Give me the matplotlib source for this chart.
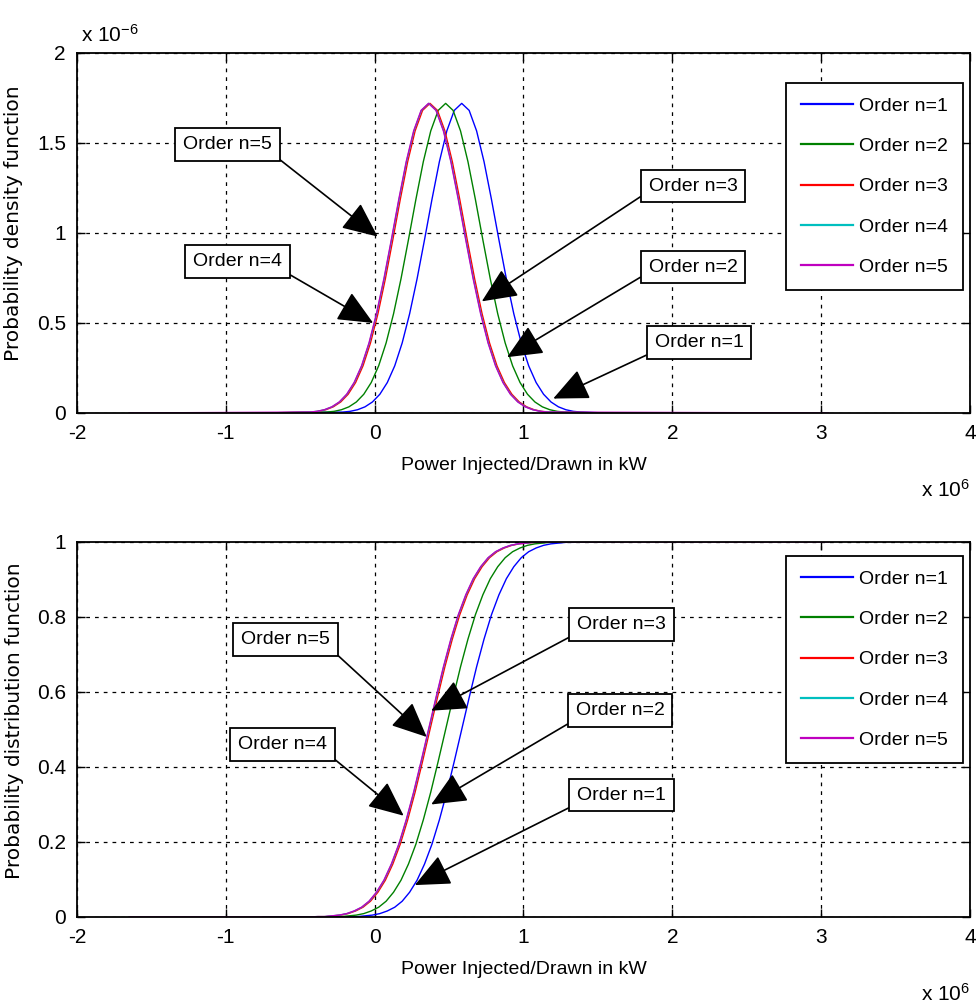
import numpy as np
import matplotlib
matplotlib.use('Agg')
import matplotlib.pyplot as plt

plt.rcParams['font.family'] = ['Liberation Sans', 'DejaVu Sans']
plt.rcParams['mathtext.fontset'] = 'custom'
plt.rcParams['mathtext.rm'] = 'Liberation Sans'
plt.rcParams['mathtext.default'] = 'regular'

# power in units of 1e6 kW, density in units of 1e-6
orders = ['Order n=1', 'Order n=2', 'Order n=3', 'Order n=4', 'Order n=5']
colors = ['#0000ff', '#008000', '#ff0000', '#00bfbf', '#bf00bf']
centre = [0.585, 0.477, 0.372, 0.364, 0.362]
span_start = [-0.75, -0.75, -0.75, -0.75, -1.65]
span_end = [1.55, 1.55, 1.55, 1.55, 3.05]

offset = [-0.80, -0.75, -0.70, -0.65, -0.60, -0.55, -0.50, -0.45, -0.40, -0.35, -0.30,
          -0.25, -0.20, -0.15, -0.10, -0.05, 0.00, 0.05, 0.10, 0.15, 0.20, 0.25,
          0.30, 0.35, 0.40, 0.45, 0.50, 0.55, 0.60, 0.65, 0.70, 0.75, 0.80]
pdf_level = [0.005, 0.009, 0.018, 0.034, 0.061, 0.104, 0.169, 0.262, 0.389, 0.551, 0.745,
             0.962, 1.186, 1.396, 1.567, 1.681, 1.720, 1.681, 1.567, 1.396, 1.186, 0.962,
             0.745, 0.551, 0.389, 0.262, 0.169, 0.104, 0.061, 0.034, 0.018, 0.009, 0.005]
cdf_level = [0.000, 0.001, 0.001, 0.003, 0.005, 0.009, 0.016, 0.026, 0.042, 0.066, 0.098,
             0.141, 0.194, 0.259, 0.333, 0.415, 0.500, 0.585, 0.667, 0.741, 0.806, 0.859,
             0.902, 0.934, 0.958, 0.974, 0.984, 0.991, 0.995, 0.997, 0.999, 0.999, 1.000]

# callouts: (label, text x, text y, arrow x, arrow y, corner of box the arrow leaves from)
pdf_notes = [('Order n=5', -0.99, 1.49, 0.02, 0.98, (1, 0)),
             ('Order n=4', -0.92, 0.84, -0.01, 0.50, (1, 0)),
             ('Order n=3', 2.14, 1.26, 0.72, 0.62, (0, 0.2)),
             ('Order n=2', 2.14, 0.81, 0.89, 0.31, (0, 0.2)),
             ('Order n=1', 2.18, 0.39, 1.20, 0.08, (0, 0))]
cdf_notes = [('Order n=5', -0.60, 0.74, 0.35, 0.48, (1, 0)),
             ('Order n=4', -0.62, 0.46, 0.195, 0.27, (1, 0)),
             ('Order n=3', 1.66, 0.78, 0.38, 0.55, (0, 0)),
             ('Order n=2', 1.65, 0.55, 0.38, 0.30, (0, 0)),
             ('Order n=1', 1.66, 0.325, 0.27, 0.085, (0, 0))]


def style_axes(ax, yticks, yticklabels, ylim):
    ax.set_xlim(-2, 4)
    ax.set_ylim(*ylim)
    ax.set_xticks([-2, -1, 0, 1, 2, 3, 4])
    ax.set_xticklabels(['-2', '-1', '0', '1', '2', '3', '4'])
    ax.set_yticks(yticks)
    ax.set_yticklabels(yticklabels)
    ax.tick_params(direction='in', length=6, width=1.0, top=True, right=True,
                   labelsize=15, pad=8)
    for s in ax.spines.values():
        s.set_linewidth(1.3)
    ax.grid(True, color='black', linestyle=(0, (3, 4)), linewidth=0.9)
    ax.set_axisbelow(True)
    ax.set_xlabel('Power Injected/Drawn in kW', fontsize=14, labelpad=10)


def add_notes(ax, notes):
    for label, tx, ty, ax_, ay, corner in notes:
        ax.annotate(label, xy=(ax_, ay), xytext=(tx, ty), ha='center', va='center',
                    fontsize=14,
                    bbox=dict(boxstyle='square,pad=0.4', fc='white', ec='black', lw=1.3),
                    arrowprops=dict(arrowstyle='-|>,head_length=1.0,head_width=0.45',
                                    color='black', lw=1.2, relpos=corner,
                                    shrinkA=0, shrinkB=0, mutation_scale=22))


fig = plt.figure(figsize=(9.77, 10.07), dpi=100)
ax1 = fig.add_axes([0.0788, 0.5899, 0.914, 0.3575])
ax2 = fig.add_axes([0.0788, 0.0894, 0.914, 0.3724])

off = np.array(offset)
for i in range(5):
    x = np.concatenate([[span_start[i]], centre[i] + off, [span_end[i]]])
    y_pdf = np.concatenate([[0], pdf_level, [0]])
    y_cdf = np.concatenate([[0], cdf_level, [1]])
    ax1.plot(x, y_pdf, color=colors[i], lw=1.0, label=orders[i])
    ax2.plot(x, y_cdf, color=colors[i], lw=1.0, label=orders[i])

style_axes(ax1, [0, 0.5, 1, 1.5, 2], ['0', '0.5', '1', '1.5', '2'], (0, 2))
style_axes(ax2, [0, 0.2, 0.4, 0.6, 0.8, 1], ['0', '0.2', '0.4', '0.6', '0.8', '1'], (0, 1))
ax1.set_ylabel('Probability density function', fontsize=14.5, family='DejaVu Sans')
ax2.set_ylabel('Probability distribution function', fontsize=14.5, family='DejaVu Sans')
ax1.yaxis.set_label_coords(-0.060, 0.528)
ax2.yaxis.set_label_coords(-0.059, 0.523)

add_notes(ax1, pdf_notes)
add_notes(ax2, cdf_notes)

leg_kw = dict(loc='upper right', fontsize=14, fancybox=False, edgecolor='black',
              framealpha=1, handlelength=2.7, handletextpad=0.3,
              labelspacing=1.16, borderpad=0.75, borderaxespad=0)
l1 = ax1.legend(bbox_to_anchor=(0.992, 0.917), **leg_kw)
l2 = ax2.legend(bbox_to_anchor=(0.992, 0.963), **leg_kw)
for l in (l1, l2):
    l.get_frame().set_linewidth(1.3)
    for h in l.get_lines():
        h.set_linewidth(1.6)

# MATLAB style exponent labels
ax1.text(0.005, 1.02, r'x 10$^{-6}$', transform=ax1.transAxes, fontsize=15, va='bottom')
ax1.text(1.0, -0.245, r'x 10$^{6}$', transform=ax1.transAxes, fontsize=15, ha='right', va='bottom')
ax2.text(1.0, -0.235, r'x 10$^{6}$', transform=ax2.transAxes, fontsize=15, ha='right', va='bottom')

fig.savefig('out.png', dpi=100)
